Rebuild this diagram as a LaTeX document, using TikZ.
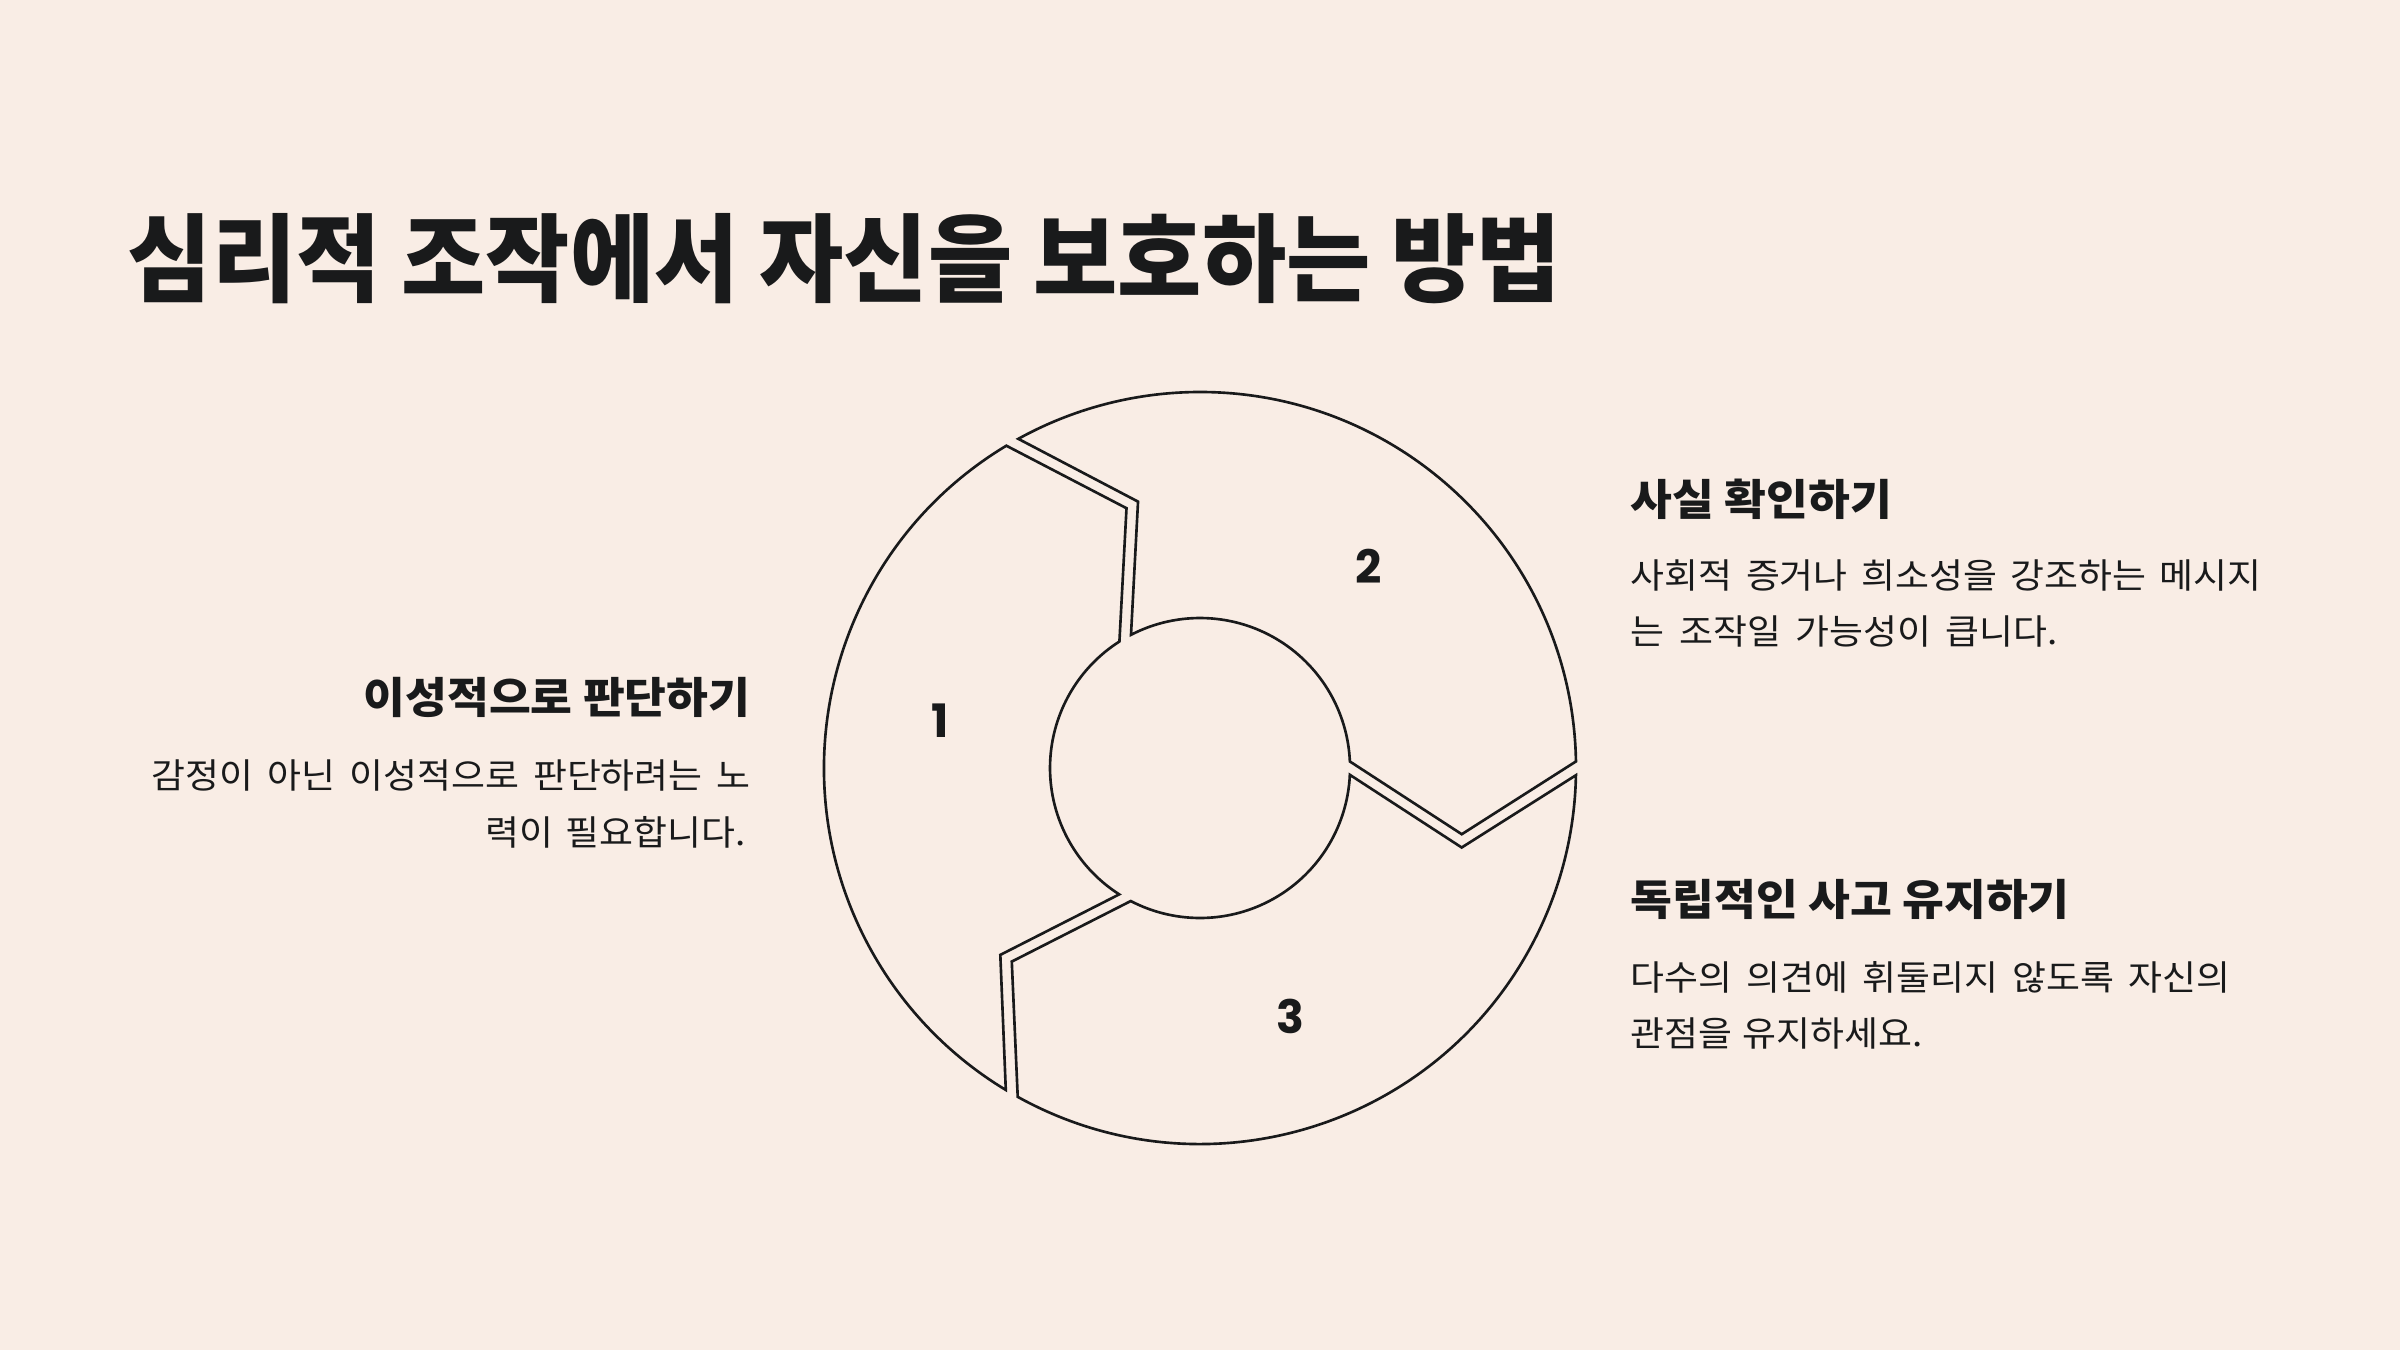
\documentclass[tikz,border=0pt]{standalone}
\usepackage{fontspec}
\newfontfamily\krtitle[FakeStretch=0.955]{Noto Sans CJK KR}
\newfontfamily\krhead[FakeStretch=1.06]{Noto Sans CJK KR}
\newfontfamily\krbody[FakeStretch=1.06]{Noto Sans CJK KR}
\newfontfamily\numfont{Poppins}
\definecolor{bg}{HTML}{F9EDE5}
\definecolor{inkc}{HTML}{191A1B}
\tikzset{
  seg/.style={draw=inkc, line width=0.75pt, fill=bg, line join=miter},
  titletext/.style={inner sep=0pt, text=inkc, font=\krtitle\bfseries\fontsize{27.3pt}{32pt}\selectfont},
  headtext/.style={inner sep=0pt, text=inkc, font=\krhead\bfseries\fontsize{12.2pt}{14pt}\selectfont},
  bodytext/.style={inner sep=0pt, text=inkc, font=\krbody\fontsize{9.9pt}{12pt}\selectfont},
  numtext/.style={inner sep=0pt, text=inkc, font=\numfont\bfseries\fontsize{13.1pt}{15pt}\selectfont},
}
\begin{document}
\begin{tikzpicture}
\fill[bg] (0,0) rectangle (24,13.5);
\useasboundingbox (0,0) rectangle (24,13.5);

% title
\node[titletext, anchor=base west] (title) at (1.27,10.55) {심리적 조작에서 자신을 보호하는 방법};

% cycle diagram
\coordinate (c) at (12.00,5.82);
\foreach \g/\h in {120/240, 0/120, 240/360} {
  \draw[seg] ([shift={(\g+1:3.76)}]c) arc[start angle=\g+1, end angle=\h-1.1, radius=3.76]
    -- ([shift={(\h-16.9:2.735)}]c) -- ([shift={(\h-2.6:1.5)}]c)
    arc[start angle=\h-2.6, end angle=\g+2.5, radius=1.5]
    -- ([shift={(\g-14.2:2.70)}]c) -- cycle;
}
\node[numtext] (n1) at (9.40,6.29) {1};
\node[numtext] (n2) at (13.69,7.84) {2};
\node[numtext] (n3) at (12.90,3.34) {3};

% left text
\node[headtext, anchor=base east] (h1) at (7.51,6.37) {이성적으로 판단하기};
\node[bodytext, anchor=base west] (b1a) at (1.51,5.615) {\makebox[5.99cm][s]{감정이 아닌 이성적으로 판단하려는 노}};
\node[bodytext, anchor=base west] (b1b) at (4.85,5.045) {\makebox[2.60cm][s]{력이 필요합니다.}};

% right text 1
\node[headtext, anchor=base west] (h2) at (16.30,8.35) {사실 확인하기};
\node[bodytext, anchor=base west] (b2a) at (16.30,7.62) {\makebox[6.31cm][s]{사회적 증거나 희소성을 강조하는 메시지}};
\node[bodytext, anchor=base west] (b2b) at (16.30,7.055) {\makebox[4.27cm][s]{는 조작일 가능성이 큽니다.}};

% right text 2
\node[headtext, anchor=base west] (h3) at (16.30,4.345) {독립적인 사고 유지하기};
\node[bodytext, anchor=base west] (b3a) at (16.30,3.60) {\makebox[6.00cm][s]{다수의 의견에 휘둘리지 않도록 자신의}};
\node[bodytext, anchor=base west] (b3b) at (16.30,3.04) {\makebox[2.92cm][s]{관점을 유지하세요.}};
\end{tikzpicture}
\end{document}
